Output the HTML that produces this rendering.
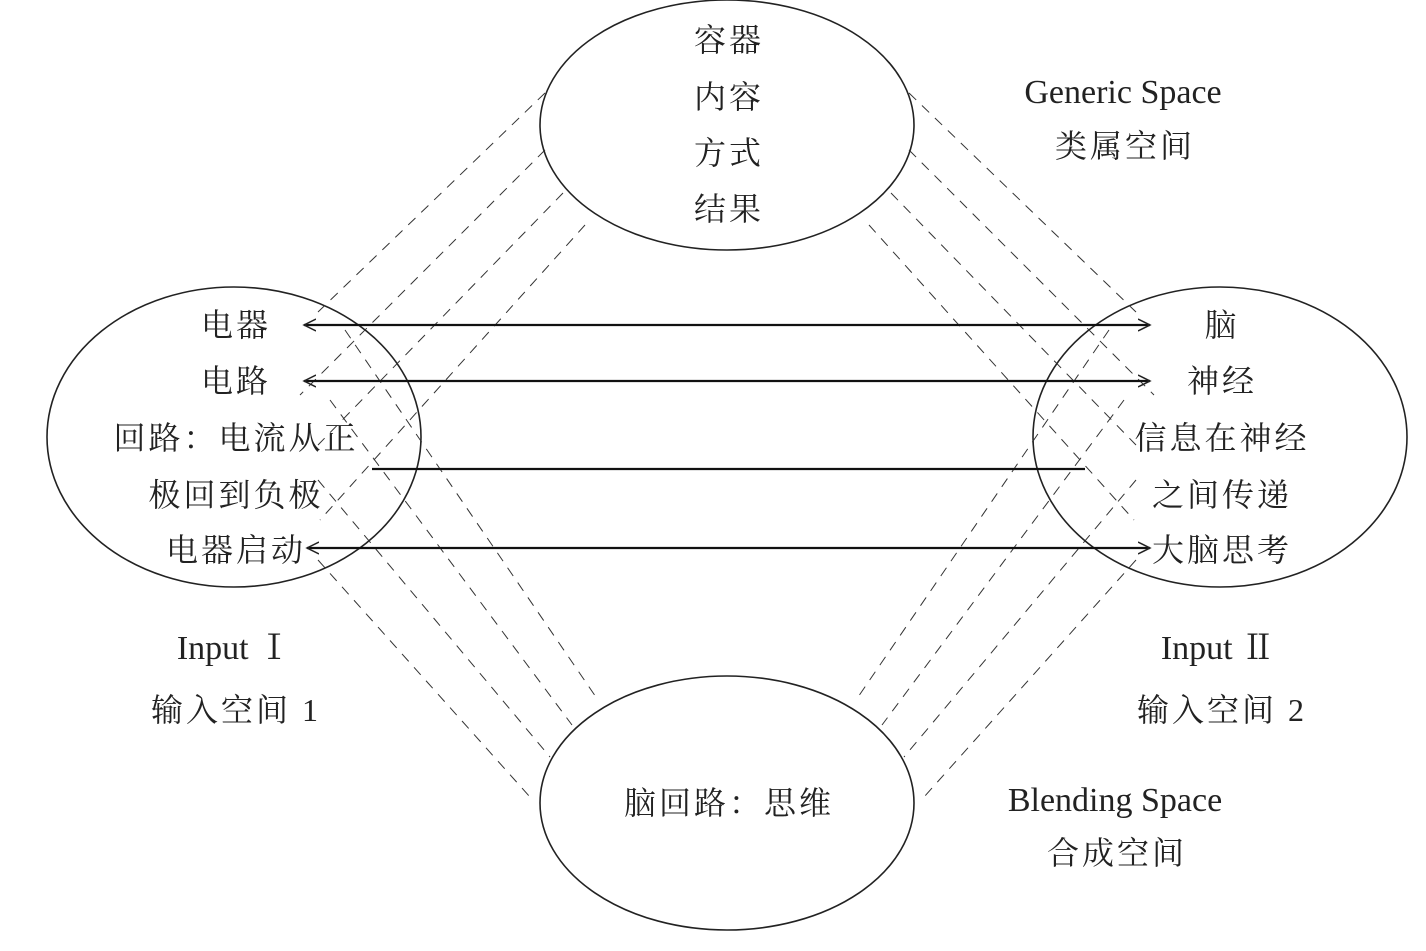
<!DOCTYPE html>
<html><head><meta charset="utf-8"><style>
html,body{margin:0;padding:0;background:#fff;}
svg{display:block;}
text{font-family:"Liberation Serif","Noto Serif CJK SC",serif;fill:#222;font-size:32px;text-anchor:middle;letter-spacing:3px;}
.en{font-size:34px;letter-spacing:0;}
</style></head><body>
<svg width="1426" height="951" viewBox="0 0 1426 951" xmlns="http://www.w3.org/2000/svg">
<defs>
<marker id="ah" markerWidth="14" markerHeight="14" refX="12" refY="7" orient="auto-start-reverse" markerUnits="userSpaceOnUse">
<path d="M0,1 L12,7 L0,13" fill="none" stroke="#222" stroke-width="1.5"/>
</marker>
</defs>
<g fill="none" stroke="#222" stroke-width="1.6">
<ellipse cx="727" cy="125" rx="187" ry="125"/>
<ellipse cx="234" cy="437" rx="187" ry="150"/>
<ellipse cx="1220" cy="437" rx="187" ry="150"/>
<ellipse cx="727" cy="803" rx="187" ry="127"/>
</g>
<g stroke="#333" stroke-width="1" stroke-dasharray="10,8" fill="none">
<line x1="545" y1="93" x2="318" y2="312"/>
<line x1="545" y1="150" x2="300" y2="395"/>
<line x1="563" y1="193" x2="318" y2="445"/>
<line x1="585" y1="225" x2="320" y2="520"/>
<line x1="909" y1="93" x2="1136" y2="312"/>
<line x1="909" y1="150" x2="1154" y2="395"/>
<line x1="891" y1="193" x2="1136" y2="445"/>
<line x1="869" y1="225" x2="1134" y2="520"/>
<line x1="318" y1="560" x2="530" y2="797"/>
<line x1="318" y1="480" x2="550" y2="757"/>
<line x1="330" y1="400" x2="572" y2="725"/>
<line x1="345" y1="330" x2="598" y2="700"/>
<line x1="1136" y1="560" x2="924" y2="797"/>
<line x1="1136" y1="480" x2="904" y2="757"/>
<line x1="1124" y1="400" x2="882" y2="725"/>
<line x1="1109" y1="330" x2="856" y2="700"/>
</g>
<g stroke="#111" stroke-width="2.2">
<line x1="304" y1="325" x2="1150" y2="325" marker-start="url(#ah)" marker-end="url(#ah)"/>
<line x1="304" y1="381" x2="1150" y2="381" marker-start="url(#ah)" marker-end="url(#ah)"/>
<line x1="372" y1="469" x2="1085" y2="469"/>
<line x1="307" y1="548" x2="1150" y2="548" marker-start="url(#ah)" marker-end="url(#ah)"/>
</g>
<text x="729" y="51">容器</text>
<text x="729" y="108">内容</text>
<text x="729" y="164">方式</text>
<text x="729" y="220">结果</text>
<text x="236" y="336">电器</text>
<text x="236" y="392">电路</text>
<text x="236" y="449">回路：电流从正</text>
<text x="236" y="506">极回到负极</text>
<text x="236" y="561">电器启动</text>
<text x="1222" y="336">脑</text>
<text x="1222" y="392">神经</text>
<text x="1222" y="449">信息在神经</text>
<text x="1222" y="506">之间传递</text>
<text x="1222" y="561">大脑思考</text>
<text class="en" x="1123" y="103">Generic Space</text>
<text x="1125" y="157">类属空间</text>
<text class="en" x="234" y="659">Input  Ⅰ</text>
<text x="236" y="721">输入空间 1</text>
<text class="en" x="1218" y="659">Input  Ⅱ</text>
<text x="1222" y="721">输入空间 2</text>
<text class="en" x="1115" y="811">Blending Space</text>
<text x="1117" y="864">合成空间</text>
<text x="729" y="814">脑回路：思维</text>
</svg>
</body></html>
